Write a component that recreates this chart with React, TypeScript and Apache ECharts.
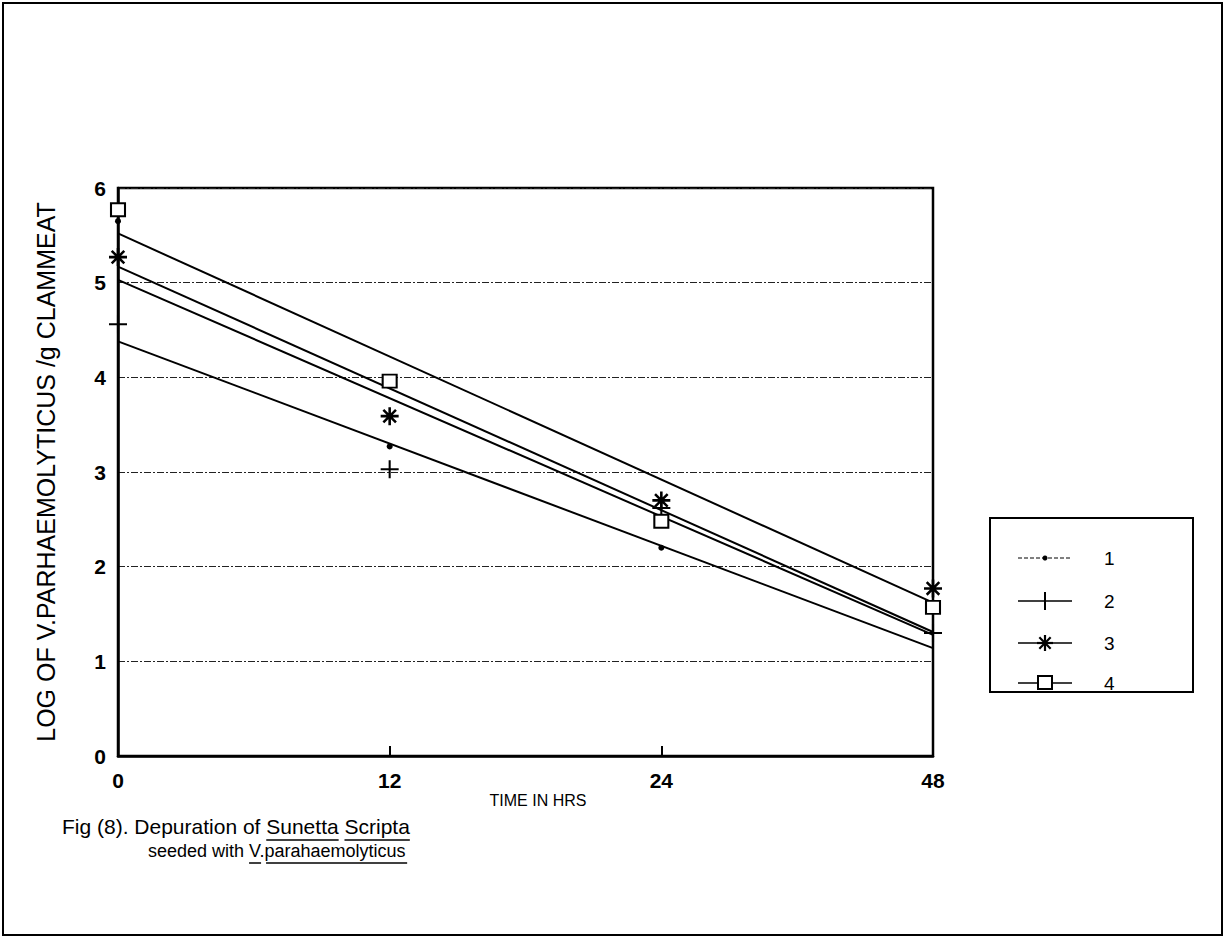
import React, { useEffect, useRef } from "react";
import * as echarts from "echarts";

const categories = ["0", "12", "24", "48"];
const yTicks = [0, 1, 2, 3, 4, 5, 6];

// observed points
const obs1 = [5.65, 3.27, 2.2, 1.6];
const obs2 = [4.56, 3.03, 2.62, 1.3];
const obs3 = [5.27, 3.59, 2.7, 1.77];
const obs4 = [5.77, 3.96, 2.48, 1.57];

// fitted lines (start at 0 h, end at 48 h)
const fit1 = [5.03, null, null, 1.28];
const fit2 = [4.38, null, null, 1.14];
const fit3 = [5.17, null, null, 1.31];
const fit4 = [5.52, null, null, 1.62];

const legendLabels = ["1", "2", "3", "4"];

const FONT = "Liberation Sans, Arial, sans-serif";

const PLUS = "path://M-0.8,-7 L0.8,-7 L0.8,-0.8 L7,-0.8 L7,0.8 L0.8,0.8 L0.8,7 L-0.8,7 L-0.8,0.8 L-7,0.8 L-7,-0.8 L-0.8,-0.8 Z";
const STAR =
  "path://M-1,-7 L1,-7 L1,7 L-1,7 Z M-7,-1 L7,-1 L7,1 L-7,1 Z M-5.6,-4.2 L-4.2,-5.6 L5.6,4.2 L4.2,5.6 Z M4.2,-5.6 L5.6,-4.2 L-4.2,5.6 L-5.6,4.2 Z";

function textWidth(s: string, font: string) {
  const c = document.createElement("canvas").getContext("2d");
  if (!c) return s.length * 9;
  c.font = font;
  return c.measureText(s).width;
}

export default function App() {
  const ref = useRef<HTMLDivElement>(null);
  useEffect(() => {
    if (!ref.current) return;
    const chart = echarts.init(ref.current, null, { renderer: "svg" });

    const f1 = 21;
    const f2 = 18;
    const font1 = `${f1}px ${FONT}`;
    const font2 = `${f2}px ${FONT}`;
    const l1a = "Fig (8). Depuration of ";
    const l1x = 62;
    const w1a = textWidth(l1a, font1);
    const wSun = textWidth("Sunetta", font1);
    const wSp = textWidth(" ", font1);
    const wScr = textWidth("Scripta", font1);
    const l2a = "seeded with ";
    const l2x = 148;
    const w2a = textWidth(l2a, font2);
    const wV = textWidth("V", font2);
    const wDot = textWidth(".", font2);
    const wPara = textWidth("parahaemolyticus", font2);
    const ul = (x1: number, x2: number, y: number) => ({
      type: "line",
      shape: { x1, y1: y, x2, y2: y },
      style: { stroke: "#000", lineWidth: 1.5 },
    });
    const txt = (text: string, x: number, y: number, size: number, extra: any = {}) => ({
      type: "text",
      style: { text, x, y, fontSize: size, fontFamily: FONT, fill: "#000", verticalAlign: "middle", ...extra },
    });

    const legendY = [558, 601, 643, 683];
    const legendItems: any[] = [];
    legendY.forEach((y, i) => {
      legendItems.push({
        type: "line",
        shape: { x1: 1018, y1: y, x2: 1072, y2: y },
        style: { stroke: "#000", lineWidth: i === 0 ? 1 : 1.5, lineDash: i === 0 ? [4, 2] : null },
      });
      legendItems.push(txt(legendLabels[i], 1104, y, 19));
    });
    legendItems.push({ type: "circle", shape: { cx: 1045, cy: 558, r: 2.5 }, style: { fill: "#000" } });
    legendItems.push({ type: "line", shape: { x1: 1045, y1: 592, x2: 1045, y2: 610 }, style: { stroke: "#000", lineWidth: 2 } });
    [0, 45, 90, 135].forEach((a) => {
      const r = (a * Math.PI) / 180;
      legendItems.push({
        type: "line",
        shape: { x1: 1045 - 8 * Math.cos(r), y1: 643 - 8 * Math.sin(r), x2: 1045 + 8 * Math.cos(r), y2: 643 + 8 * Math.sin(r) },
        style: { stroke: "#000", lineWidth: 2.2 },
      });
    });
    legendItems.push({ type: "rect", shape: { x: 1038, y: 676, width: 14, height: 13 }, style: { fill: "#fff", stroke: "#000", lineWidth: 2 } });

    const scatterBase = { type: "line", lineStyle: { width: 0, opacity: 0 }, z: 5 };

    chart.setOption({
      animation: false,
      backgroundColor: "#fff",
      grid: { left: 118, right: 292, top: 188, bottom: 184, show: true, borderColor: "#000", borderWidth: 2.5 },
      xAxis: {
        type: "category",
        data: categories,
        boundaryGap: false,
        axisLine: { lineStyle: { color: "#000", width: 2.5 } },
        axisTick: { inside: true, length: 10, lineStyle: { color: "#000", width: 2 } },
        axisLabel: { color: "#000", fontSize: 21, fontWeight: "bold", fontFamily: FONT, margin: 14 },
        splitLine: { show: false },
      },
      yAxis: {
        type: "value",
        min: yTicks[0],
        max: yTicks[yTicks.length - 1],
        interval: 1,
        name: "LOG OF V.PARHAEMOLYTICUS /g CLAMMEAT",
        nameLocation: "middle",
        nameGap: 60,
        nameRotate: 90,
        nameTextStyle: { color: "#000", fontSize: 25, fontFamily: FONT },
        axisLine: { show: true, lineStyle: { color: "#000", width: 2.5 } },
        axisTick: { show: false },
        axisLabel: { color: "#000", fontSize: 21, fontWeight: "bold", fontFamily: FONT, margin: 12 },
        splitLine: { show: true, lineStyle: { color: "#222", width: 1.2, type: [7, 2, 2, 2] } },
      },
      series: [
        { name: "fit1", type: "line", data: fit1, connectNulls: true, symbol: "none", lineStyle: { color: "#000", width: 2 } },
        { name: "fit2", type: "line", data: fit2, connectNulls: true, symbol: "none", lineStyle: { color: "#000", width: 2 } },
        { name: "fit3", type: "line", data: fit3, connectNulls: true, symbol: "none", lineStyle: { color: "#000", width: 2 } },
        { name: "fit4", type: "line", data: fit4, connectNulls: true, symbol: "none", lineStyle: { color: "#000", width: 2 } },
        { ...scatterBase, name: "1", data: obs1, symbol: "circle", symbolSize: 6, itemStyle: { color: "#000" } },
        { ...scatterBase, name: "2", data: obs2, symbol: PLUS, symbolSize: 18, itemStyle: { color: "#000" } },
        { ...scatterBase, name: "3", data: obs3, symbol: STAR, symbolSize: 18, itemStyle: { color: "#000" } },
        { ...scatterBase, name: "4", data: obs4, symbol: "rect", symbolSize: [14, 13], itemStyle: { color: "#fff", borderColor: "#000", borderWidth: 2 } },
      ],
      graphic: [
        { type: "rect", shape: { x: 3, y: 3, width: 1219, height: 932 }, style: { fill: "none", stroke: "#000", lineWidth: 2 }, silent: true },
        { type: "rect", shape: { x: 990, y: 518, width: 203, height: 174 }, style: { fill: "#fff", stroke: "#000", lineWidth: 2 } },
        ...legendItems,
        txt("TIME IN HRS", 538, 800, 16, { align: "center" }),
        txt(l1a + "Sunetta Scripta", l1x, 826, f1),
        ul(l1x + w1a, l1x + w1a + wSun, 840),
        ul(l1x + w1a + wSun + wSp, l1x + w1a + wSun + wSp + wScr, 840),
        txt(l2a + "V.parahaemolyticus", l2x, 851, f2),
        ul(l2x + w2a, l2x + w2a + wV, 863),
        ul(l2x + w2a + wV + wDot, l2x + w2a + wV + wDot + wPara, 863),
      ],
    });
    return () => chart.dispose();
  }, []);
  return <div ref={ref} style={{ position: "fixed", left: 0, top: 0, width: 1225, height: 940 }} />;
}
